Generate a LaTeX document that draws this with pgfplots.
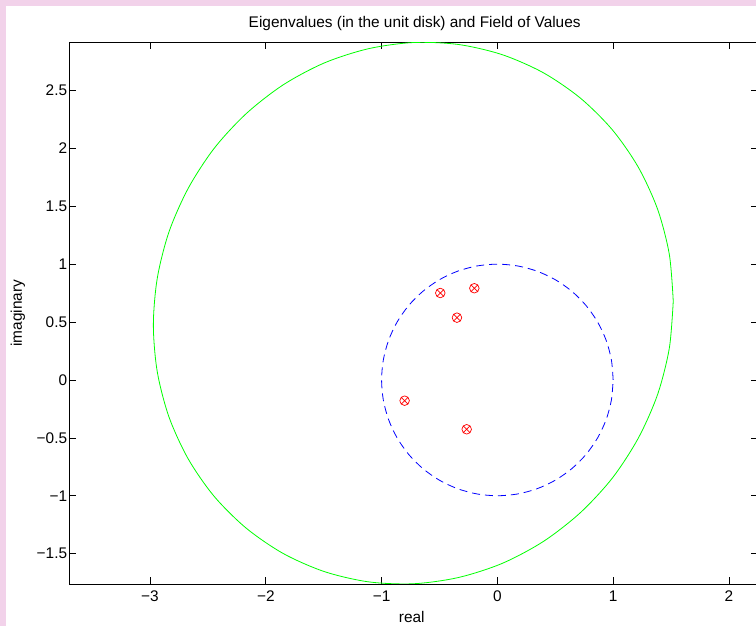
\documentclass[border=0pt]{standalone}
\usepackage{fontspec}
\setmainfont{Liberation Sans}
\usepackage{pgfplots}
\pgfplotsset{compat=1.18}
\definecolor{pinkbg}{RGB}{242,210,234}
\begin{document}
\fontsize{15.4}{18}\selectfont
\begin{tikzpicture}[x=1pt,y=1pt]
\path[use as bounding box] (0,0) rectangle (756,626);
\fill[pinkbg] (0,0) rectangle (6,626);
\fill[pinkbg] (0,620) rectangle (756,626);
\begin{axis}[
  at={(69.3pt,42pt)}, anchor=south west,
  scale only axis, width=688pt, height=541.7pt,
  xmin=-3.697, xmax=2.245, ymin=-1.762, ymax=2.916,
  xtick={-3,-2,-1,0,1,2}, xticklabels={−3,−2,−1,0,1,2},
  ytick={-1.5,-1,-0.5,0,0.5,1,1.5,2,2.5},
  yticklabels={−1.5,−1,−0.5,0,0.5,1,1.5,2,2.5},
  tick align=inside, major tick length=6.5pt,
  tick style={black, line width=0.7pt},
  axis line style={line width=0.8pt},
  xticklabel style={inner sep=2pt, yshift=-5pt},
  yticklabel style={inner sep=2pt},
  title={Eigenvalues (in the unit disk) and Field of Values},
  title style={at={(axis description cs:0.502,1.0227)}, anchor=center},
  xlabel={real}, ylabel={imaginary},
  xlabel style={at={(axis description cs:0.4977,-0.0609)}, anchor=center},
  ylabel style={at={(axis description cs:-0.0746,0.5)}, anchor=center},
  clip=true,
]
\addplot[color={rgb,255:red,0;green,255;blue,0}, line width=0.8pt, smooth] coordinates {
(1.519,0.681) (1.485,1.085) (1.384,1.474) (1.218,1.836) (0.994,2.159)
(0.717,2.434) (0.397,2.653) (0.042,2.809) (-0.336,2.897) (-0.726,2.914)
(-1.116,2.860) (-1.494,2.738) (-1.849,2.549) (-2.169,2.300) (-2.446,2.000)
(-2.670,1.655) (-2.836,1.279) (-2.937,0.880) (-2.971,0.473) (-2.937,0.069)
(-2.836,-0.320) (-2.670,-0.682) (-2.446,-1.005) (-2.169,-1.280) (-1.849,-1.499)
(-1.494,-1.655) (-1.116,-1.743) (-0.726,-1.760) (-0.336,-1.706) (0.042,-1.584)
(0.397,-1.395) (0.717,-1.146) (0.994,-0.846) (1.218,-0.501) (1.384,-0.125)
(1.485,0.274) (1.519,0.681)
};
\addplot[color={rgb,255:red,0;green,0;blue,255}, line width=0.8pt, dash pattern=on 8pt off 5pt, smooth] coordinates {
(1,0) (0.9848,0.1736) (0.9397,0.3420) (0.8660,0.5) (0.7660,0.6428)
(0.6428,0.7660) (0.5,0.8660) (0.3420,0.9397) (0.1736,0.9848) (0,1)
(-0.1736,0.9848) (-0.3420,0.9397) (-0.5,0.8660) (-0.6428,0.7660) (-0.7660,0.6428)
(-0.8660,0.5) (-0.9397,0.3420) (-0.9848,0.1736) (-1,0) (-0.9848,-0.1736)
(-0.9397,-0.3420) (-0.8660,-0.5) (-0.7660,-0.6428) (-0.6428,-0.7660) (-0.5,-0.8660)
(-0.3420,-0.9397) (-0.1736,-0.9848) (0,-1) (0.1736,-0.9848) (0.3420,-0.9397)
(0.5,-0.8660) (0.6428,-0.7660) (0.7660,-0.6428) (0.8660,-0.5) (0.9397,-0.3420)
(0.9848,-0.1736) (1,0)
};
\addplot[only marks, mark=otimes, mark size=4.8pt, color=red, mark options={line width=0.7pt}] coordinates {
(-0.493,0.751) (-0.199,0.792) (-0.349,0.538) (-0.801,-0.179) (-0.265,-0.426)
};
\end{axis}
\end{tikzpicture}
\end{document}
